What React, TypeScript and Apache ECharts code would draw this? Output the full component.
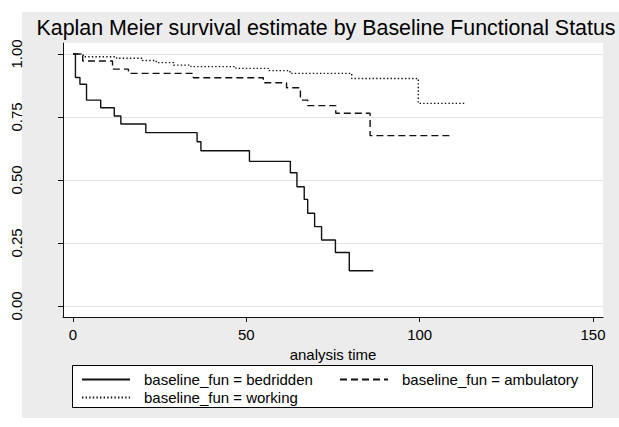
import React, { useEffect, useRef } from 'react';
import * as echarts from 'echarts';

const titleText = 'Kaplan Meier survival estimate by Baseline Functional Status';
const xAxisTitle = 'analysis time';
const xTicks = [0, 50, 100, 150];
const yTicks = [0, 0.25, 0.5, 0.75, 1];

const seriesNames = [
  'baseline_fun = bedridden',
  'baseline_fun = ambulatory',
  'baseline_fun = working',
];

const bedriddenTime = [0, 0.7, 2, 3.9, 8, 11.9, 13.8, 21, 35.8, 36.9, 50.9, 62.7, 64.6, 66.7, 67.7, 69.7, 71.7, 75.7, 79.7, 86.6];
const bedriddenSurv = [1, 0.907, 0.88, 0.817, 0.787, 0.754, 0.722, 0.688, 0.652, 0.616, 0.574, 0.529, 0.473, 0.423, 0.368, 0.315, 0.262, 0.212, 0.14, 0.14];

const ambulatoryTime = [0, 2.8, 11.4, 16, 34.7, 54.9, 61.6, 65.6, 67.7, 75.8, 85.7, 109.7];
const ambulatorySurv = [1, 0.972, 0.94, 0.923, 0.906, 0.886, 0.866, 0.817, 0.795, 0.765, 0.676, 0.676];

const workingTime = [0, 3, 12.6, 20, 24, 29, 34, 47, 56.3, 62.6, 80.4, 99.6, 113];
const workingSurv = [1, 0.989, 0.983, 0.974, 0.966, 0.956, 0.95, 0.943, 0.934, 0.923, 0.903, 0.804, 0.804];

const zip = (t: number[], s: number[]) => t.map((v, i) => [v, s[i]]);

export default function App() {
  const ref = useRef<HTMLDivElement>(null);
  useEffect(() => {
    if (!ref.current) return;
    const chart = echarts.init(ref.current, null, { renderer: 'svg' });
    const ink = '#111111';
    const font = 'Liberation Sans, Arial, Helvetica, sans-serif';
    const legendText = { fontSize: 15, color: '#000', fontFamily: font, padding: [0, 0, 0, 9] };
    const hiddenSymbol = { color: 'rgba(0,0,0,0)', borderWidth: 0, opacity: 0 };
    chart.setOption({
      animation: false,
      backgroundColor: '#ffffff',
      textStyle: { fontFamily: font },
      title: {
        text: titleText,
        left: 326,
        top: 17,
        textAlign: 'center',
        padding: 0,
        textStyle: { fontSize: 21.4, fontWeight: 'normal', color: '#000', fontFamily: font },
      },
      graphic: [
        {
          type: 'rect',
          z: -100,
          silent: true,
          shape: { x: 22, y: 12, width: 597, height: 406 },
          style: { fill: '#ececec' },
        },
        {
          type: 'rect',
          z: 1,
          silent: true,
          shape: { x: 72.5, y: 365.5, width: 520, height: 42 },
          style: { fill: '#ffffff', stroke: '#000', lineWidth: 1 },
        },
      ],
      grid: {
        left: 63,
        top: 43,
        width: 540,
        height: 274,
        show: true,
        backgroundColor: '#ffffff',
        borderWidth: 0,
      },
      xAxis: {
        type: 'value',
        min: -2.885,
        max: 152.885,
        name: xAxisTitle,
        nameLocation: 'middle',
        nameGap: 19,
        nameTextStyle: { fontSize: 15, color: '#000', fontFamily: font },
        axisLine: { show: true, onZero: false, lineStyle: { color: ink, width: 1 } },
        axisTick: { show: true, length: 5, customValues: xTicks, lineStyle: { color: ink, width: 1 } },
        axisLabel: { customValues: xTicks, fontSize: 15, color: '#000', margin: 10 },
        splitLine: { show: false },
      },
      yAxis: {
        type: 'value',
        min: -0.0437,
        max: 1.0437,
        axisLine: { show: true, onZero: false, lineStyle: { color: ink, width: 1 } },
        axisTick: { show: true, length: 5, customValues: yTicks, lineStyle: { color: ink, width: 1 } },
        axisLabel: {
          customValues: yTicks,
          fontSize: 15,
          color: '#000',
          rotate: 90,
          margin: 39,
          formatter: (v: number) => v.toFixed(2),
        },
        splitLine: { show: true, lineStyle: { color: '#e4e4e4', width: 1 } },
      },
      legend: [
        {
          data: [seriesNames[0], seriesNames[2]],
          orient: 'vertical',
          left: 81,
          top: 372,
          padding: 0,
          itemGap: 3,
          itemWidth: 48,
          itemHeight: 12,
          z: 5,
          itemStyle: hiddenSymbol,
          textStyle: legendText,
          selectedMode: false,
        },
        {
          data: [seriesNames[1]],
          orient: 'vertical',
          left: 339,
          top: 372,
          padding: 0,
          itemWidth: 48,
          itemHeight: 12,
          z: 5,
          itemStyle: hiddenSymbol,
          textStyle: legendText,
          selectedMode: false,
        },
      ],
      series: [
        {
          name: seriesNames[0],
          type: 'line',
          step: 'end',
          symbol: 'none',
          color: ink,
          lineStyle: { color: ink, width: 1.4, type: 'solid' },
          data: zip(bedriddenTime, bedriddenSurv),
        },
        {
          name: seriesNames[1],
          type: 'line',
          step: 'end',
          symbol: 'none',
          color: ink,
          lineStyle: { color: ink, width: 1.4, type: [7, 4] },
          data: zip(ambulatoryTime, ambulatorySurv),
        },
        {
          name: seriesNames[2],
          type: 'line',
          step: 'end',
          symbol: 'none',
          color: ink,
          lineStyle: { color: ink, width: 1.4, type: [1.4, 2.2] },
          data: zip(workingTime, workingSurv),
        },
      ],
    });
    return () => chart.dispose();
  }, []);
  return (
    <div
      ref={ref}
      style={{ position: 'fixed', left: 0, top: 0, width: 619, height: 427 }}
    />
  );
}
